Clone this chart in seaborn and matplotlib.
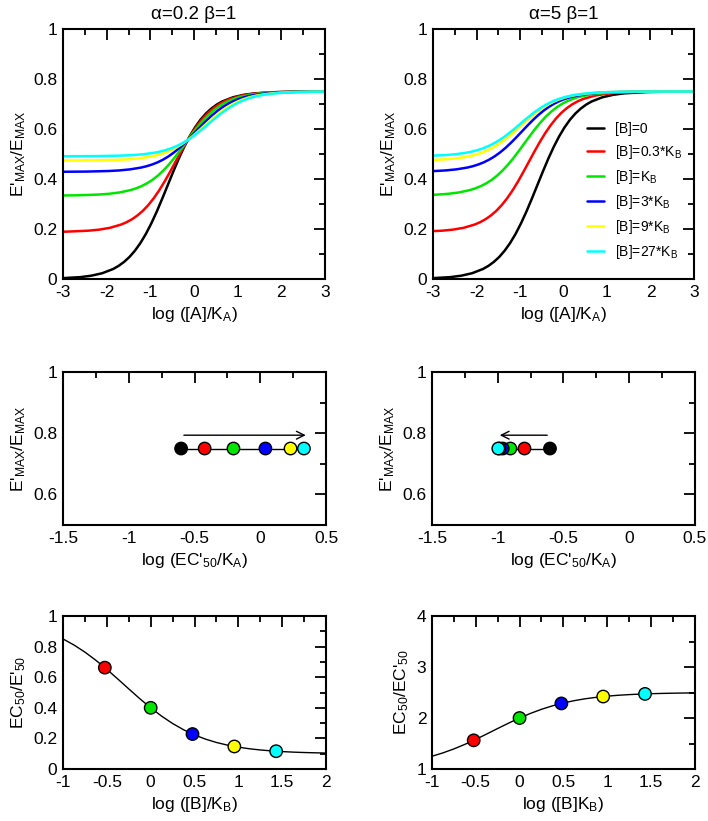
import numpy as np
import pandas as pd
import matplotlib
matplotlib.use('Agg')
import matplotlib.pyplot as plt
from matplotlib.ticker import MultipleLocator, FuncFormatter
import seaborn as sns

# concentrations of B (in K_B units) and colours
b_labels = ['[B]=0', '[B]=0.3*K$_B$', '[B]=K$_B$', '[B]=3*K$_B$', '[B]=9*K$_B$', '[B]=27*K$_B$']
colors = ['#000000', '#ff0000', '#00e600', '#0000ff', '#ffff00', '#00ffff']

# top row: E'max/Emax curves, y values (same for both alpha)
y_b0 = [0.0002, 0.0007, 0.0024, 0.0074, 0.0131, 0.0230, 0.0399, 0.0523, 0.0682, 0.0882, 0.1133,
        0.1438, 0.1802, 0.2225, 0.2699, 0.3214, 0.375, 0.4286, 0.4801, 0.5275, 0.5698, 0.6062,
        0.6368, 0.6618, 0.6818, 0.6977, 0.7101, 0.7270, 0.7369, 0.7426, 0.7476, 0.7493, 0.7498, 0.7499]
y_b03 = [0.1877, 0.1881, 0.1893, 0.1931, 0.1973, 0.2047, 0.2175, 0.2267, 0.2386, 0.2537, 0.2724,
         0.2953, 0.3227, 0.3543, 0.3899, 0.4286, 0.4688, 0.5090, 0.5476, 0.5832, 0.6148, 0.6422,
         0.6651, 0.6838, 0.6989, 0.7108, 0.7201, 0.7327, 0.7402, 0.7444, 0.7482, 0.7494, 0.7498, 0.7499]
y_b1 = [0.3335, 0.3337, 0.3346, 0.3375, 0.3406, 0.3461, 0.3555, 0.3624, 0.3712, 0.3824, 0.3962,
        0.4132, 0.4335, 0.4569, 0.4833, 0.5119, 0.5417, 0.5714, 0.6000, 0.6264, 0.6499, 0.6701,
        0.6871, 0.7010, 0.7121, 0.7209, 0.7278, 0.7372, 0.7427, 0.7458, 0.7487, 0.7496, 0.7499, 0.7500]
y_b3 = [0.4287, 0.4289, 0.4296, 0.4318, 0.4342, 0.4385, 0.4457, 0.4510, 0.4578, 0.4664, 0.4771,
        0.4902, 0.5058, 0.5239, 0.5443, 0.5663, 0.5893, 0.6123, 0.6343, 0.6547, 0.6728, 0.6884,
        0.7015, 0.7122, 0.7208, 0.7276, 0.7329, 0.7401, 0.7444, 0.7468, 0.7490, 0.7497, 0.7499, 0.7500]
y_b9 = [0.4738, 0.4740, 0.4746, 0.4764, 0.4785, 0.4822, 0.4884, 0.4930, 0.4988, 0.5062, 0.5154,
        0.5267, 0.5401, 0.5556, 0.5731, 0.5921, 0.6119, 0.6316, 0.6506, 0.6680, 0.6836, 0.6970,
        0.7083, 0.7175, 0.7249, 0.7307, 0.7353, 0.7415, 0.7452, 0.7473, 0.7491, 0.7497, 0.7499, 0.7500]
y_b27 = [0.4910, 0.4912, 0.4917, 0.4935, 0.4954, 0.4988, 0.5047, 0.5090, 0.5145, 0.5214, 0.5300,
         0.5406, 0.5532, 0.5678, 0.5842, 0.6019, 0.6205, 0.6390, 0.6568, 0.6732, 0.6877, 0.7003,
         0.7109, 0.7195, 0.7264, 0.7319, 0.7362, 0.7420, 0.7455, 0.7474, 0.7492, 0.7497, 0.7499, 0.7500]

# x values log([A]/K_A), alpha = 0.2
x_a02_b0 = [-4.102, -3.602, -3.102, -2.602, -2.352, -2.102, -1.852, -1.727, -1.602, -1.477, -1.352,
            -1.227, -1.102, -0.977, -0.852, -0.727, -0.602, -0.477, -0.352, -0.227, -0.102, 0.023,
            0.148, 0.273, 0.398, 0.523, 0.648, 0.898, 1.148, 1.398, 1.898, 2.398, 2.898, 3.398]
x_a02_b03 = [-3.923, -3.423, -2.923, -2.423, -2.173, -1.923, -1.673, -1.548, -1.423, -1.298, -1.173,
             -1.048, -0.923, -0.798, -0.673, -0.548, -0.423, -0.298, -0.173, -0.048, 0.077, 0.202,
             0.327, 0.452, 0.577, 0.702, 0.827, 1.077, 1.327, 1.577, 2.077, 2.577, 3.077, 3.577]
x_a02_b1 = [-3.704, -3.204, -2.704, -2.204, -1.954, -1.704, -1.454, -1.329, -1.204, -1.079, -0.954,
            -0.829, -0.704, -0.579, -0.454, -0.329, -0.204, -0.079, 0.046, 0.171, 0.296, 0.421,
            0.546, 0.671, 0.796, 0.921, 1.046, 1.296, 1.546, 1.796, 2.296, 2.796, 3.296, 3.796]
x_a02_b3 = [-3.461, -2.961, -2.461, -1.961, -1.711, -1.461, -1.211, -1.086, -0.961, -0.836, -0.711,
            -0.586, -0.461, -0.336, -0.211, -0.086, 0.039, 0.164, 0.289, 0.414, 0.539, 0.664,
            0.789, 0.914, 1.039, 1.164, 1.289, 1.539, 1.789, 2.039, 2.539, 3.039, 3.539, 4.039]
x_a02_b9 = [-3.270, -2.770, -2.270, -1.770, -1.520, -1.270, -1.020, -0.895, -0.770, -0.645, -0.520,
            -0.395, -0.270, -0.145, -0.020, 0.105, 0.230, 0.355, 0.480, 0.605, 0.730, 0.855,
            0.980, 1.105, 1.230, 1.355, 1.480, 1.730, 1.980, 2.230, 2.730, 3.230, 3.730, 4.230]
x_a02_b27 = [-3.168, -2.668, -2.168, -1.668, -1.418, -1.168, -0.918, -0.793, -0.668, -0.543, -0.418,
             -0.293, -0.168, -0.043, 0.082, 0.207, 0.332, 0.457, 0.582, 0.707, 0.832, 0.957,
             1.082, 1.207, 1.332, 1.457, 1.582, 1.832, 2.082, 2.332, 2.832, 3.332, 3.832, 4.332]

# x values log([A]/K_A), alpha = 5
x_a5_b0 = x_a02_b0
x_a5_b03 = [-4.296, -3.796, -3.296, -2.796, -2.546, -2.296, -2.046, -1.921, -1.796, -1.671, -1.546,
            -1.421, -1.296, -1.171, -1.046, -0.921, -0.796, -0.671, -0.546, -0.421, -0.296, -0.171,
            -0.046, 0.079, 0.204, 0.329, 0.454, 0.704, 0.954, 1.204, 1.704, 2.204, 2.704, 3.204]
x_a5_b1 = [-4.403, -3.903, -3.403, -2.903, -2.653, -2.403, -2.153, -2.028, -1.903, -1.778, -1.653,
           -1.528, -1.403, -1.278, -1.153, -1.028, -0.903, -0.778, -0.653, -0.528, -0.403, -0.278,
           -0.153, -0.028, 0.097, 0.222, 0.347, 0.597, 0.847, 1.097, 1.597, 2.097, 2.597, 3.097]
x_a5_b3 = [-4.461, -3.961, -3.461, -2.961, -2.711, -2.461, -2.211, -2.086, -1.961, -1.836, -1.711,
           -1.586, -1.461, -1.336, -1.211, -1.086, -0.961, -0.836, -0.711, -0.586, -0.461, -0.336,
           -0.211, -0.086, 0.039, 0.164, 0.289, 0.539, 0.789, 1.039, 1.539, 2.039, 2.539, 3.039]
x_a5_b9 = [-4.486, -3.986, -3.486, -2.986, -2.736, -2.486, -2.236, -2.111, -1.986, -1.861, -1.736,
           -1.611, -1.486, -1.361, -1.236, -1.111, -0.986, -0.861, -0.736, -0.611, -0.486, -0.361,
           -0.236, -0.111, 0.014, 0.139, 0.264, 0.514, 0.764, 1.014, 1.514, 2.014, 2.514, 3.014]
x_a5_b27 = [-4.495, -3.995, -3.495, -2.995, -2.745, -2.495, -2.245, -2.120, -1.995, -1.870, -1.745,
            -1.620, -1.495, -1.370, -1.245, -1.120, -0.995, -0.870, -0.745, -0.620, -0.495, -0.370,
            -0.245, -0.120, 0.005, 0.130, 0.255, 0.505, 0.755, 1.005, 1.505, 2.005, 2.505, 3.005]

# middle row: log(EC'50/K_A) for each [B]
ec50_a02 = [-0.602, -0.423, -0.204, 0.039, 0.230, 0.332]
ec50_a5 = [-0.602, -0.796, -0.903, -0.961, -0.986, -0.995]
emax = [0.75, 0.75, 0.75, 0.75, 0.75, 0.75]

# bottom row: EC50 ratio vs log([B]/K_B)
logb_curve = [-1, -0.875, -0.75, -0.625, -0.5, -0.375, -0.25, -0.125, 0, 0.125, 0.25, 0.375, 0.5,
              0.625, 0.75, 0.875, 1, 1.125, 1.25, 1.375, 1.5, 1.625, 1.75, 1.875, 2]
ratio_a02 = [0.850, 0.8105, 0.7639, 0.7105, 0.6513, 0.5882, 0.5236, 0.4600, 0.4, 0.3454, 0.2975,
             0.2567, 0.2229, 0.1954, 0.1735, 0.1563, 0.1429, 0.1325, 0.1246, 0.1186, 0.1140,
             0.1105, 0.1079, 0.1060, 0.1045]
ratio_a5 = [1.25, 1.3159, 1.3935, 1.4825, 1.5811, 1.6863, 1.7940, 1.9000, 2.0, 2.0910, 2.1708,
            2.2388, 2.2952, 2.3410, 2.3775, 2.4062, 2.4286, 2.4458, 2.4590, 2.4690, 2.4767,
            2.4824, 2.4868, 2.4901, 2.4925]
logb_pts = [-0.523, 0.0, 0.477, 0.954, 1.431]
ratio_pts_a02 = [0.6625, 0.4, 0.2286, 0.1474, 0.1164]
ratio_pts_a5 = [1.5625, 2.0, 2.2857, 2.421, 2.4727]

y_top = [y_b0, y_b03, y_b1, y_b3, y_b9, y_b27]
x_top_a02 = [x_a02_b0, x_a02_b03, x_a02_b1, x_a02_b3, x_a02_b9, x_a02_b27]
x_top_a5 = [x_a5_b0, x_a5_b03, x_a5_b1, x_a5_b3, x_a5_b9, x_a5_b27]

sns.set_theme(style='white')
plt.rcParams['font.family'] = ['Liberation Sans', 'DejaVu Sans']
plt.rcParams['mathtext.default'] = 'regular'
plt.rcParams['axes.edgecolor'] = 'black'
plt.rcParams['axes.linewidth'] = 1.5
plt.rcParams['text.color'] = 'black'
plt.rcParams['axes.labelcolor'] = 'black'
plt.rcParams['xtick.color'] = 'black'
plt.rcParams['ytick.color'] = 'black'
fs = 12.5

fig = plt.figure(figsize=(7.08, 8.21), dpi=100)
ax1 = fig.add_axes([0.089, 0.6602, 0.370, 0.3045])
ax2 = fig.add_axes([0.6116, 0.6602, 0.3686, 0.3045])
ax3 = fig.add_axes([0.089, 0.3605, 0.3715, 0.1864])
ax4 = fig.add_axes([0.610, 0.3605, 0.3715, 0.1864])
ax5 = fig.add_axes([0.089, 0.0633, 0.3715, 0.1864])
ax6 = fig.add_axes([0.610, 0.0633, 0.3715, 0.1864])

fmt = FuncFormatter(lambda v, p: '%g' % round(v, 2))


def style(ax, xmaj, xmin, ymaj, ymin):
    ax.xaxis.set_major_locator(MultipleLocator(xmaj))
    ax.xaxis.set_minor_locator(MultipleLocator(xmin))
    ax.yaxis.set_major_locator(MultipleLocator(ymaj))
    ax.yaxis.set_minor_locator(MultipleLocator(ymin))
    ax.tick_params(which='both', direction='in', top=True, right=True, labelsize=fs, pad=4)
    ax.tick_params(which='major', length=8, width=1.3)
    ax.tick_params(which='minor', length=4.5, width=1.3)
    ax.xaxis.set_major_formatter(fmt)
    ax.yaxis.set_major_formatter(fmt)


# top row
for ax, xs, title in [(ax1, x_top_a02, 'α=0.2 β=1'), (ax2, x_top_a5, 'α=5 β=1')]:
    for i in range(6):
        sns.lineplot(x=xs[i], y=y_top[i], color=colors[i], lw=1.8, ax=ax, sort=False,
                     estimator=None, label=b_labels[i])
    ax.set_xlim(-3, 3)
    ax.set_ylim(0, 1)
    style(ax, 1, 0.5, 0.2, 0.1)
    ax.set_title(title, fontsize=13.5, pad=7)
    ax.set_xlabel('log ([A]/K$_A$)', fontsize=fs)
    ax.set_ylabel("E'$_{MAX}$/E$_{MAX}$", fontsize=fs)
ax1.get_legend().remove()
ax2.legend(loc='upper left', bbox_to_anchor=(0.59, 0.628), frameon=False, fontsize=10,
           borderpad=0, borderaxespad=0, handlelength=1.25, labelspacing=0.5,
           handletextpad=0.75)

# middle row
for ax, ec in [(ax3, ec50_a02), (ax4, ec50_a5)]:
    sns.lineplot(x=ec, y=emax, color='black', lw=1, ax=ax, sort=False, estimator=None)
    sns.scatterplot(x=ec, y=emax, hue=b_labels, palette=colors, s=80, edgecolor='black',
                    linewidth=1, ax=ax, legend=False, zorder=3)
    ax.annotate('', xy=(ec[-1] + (0.035 if ec[-1] > ec[0] else -0.01), 0.7935),
                xytext=(ec[0], 0.7935),
                arrowprops=dict(arrowstyle='->', color='black', lw=1, mutation_scale=14))
    ax.set_xlim(-1.5, 0.5)
    ax.set_ylim(0.5, 1)
    style(ax, 0.5, 0.25, 0.2, 0.1)
    ax.set_yticks([0.6, 0.8, 1.0])
    ax.set_xlabel("log (EC'$_{50}$/K$_A$)", fontsize=fs)
    ax.set_ylabel("E'$_{MAX}$/E$_{MAX}$", fontsize=fs)

# bottom row
for ax, rc, rp in [(ax5, ratio_a02, ratio_pts_a02), (ax6, ratio_a5, ratio_pts_a5)]:
    sns.lineplot(x=logb_curve, y=rc, color='black', lw=1, ax=ax, sort=False, estimator=None)
    sns.scatterplot(x=logb_pts, y=rp, hue=b_labels[1:], palette=colors[1:], s=80,
                    edgecolor='black', linewidth=1, ax=ax, legend=False, zorder=3)
    ax.set_xlim(-1, 2)
ax5.set_ylim(0, 1)
style(ax5, 0.5, 0.25, 0.2, 0.1)
ax6.set_ylim(1, 4)
style(ax6, 0.5, 0.25, 1, 0.5)
ax5.set_xlabel('log ([B]/K$_B$)', fontsize=fs)
ax5.set_ylabel("EC$_{50}$/E'$_{50}$", fontsize=fs)
ax6.set_xlabel('log ([B]K$_B$)', fontsize=fs)
ax6.set_ylabel("EC$_{50}$/EC'$_{50}$", fontsize=fs)

fig.savefig('out.png', dpi=100)
